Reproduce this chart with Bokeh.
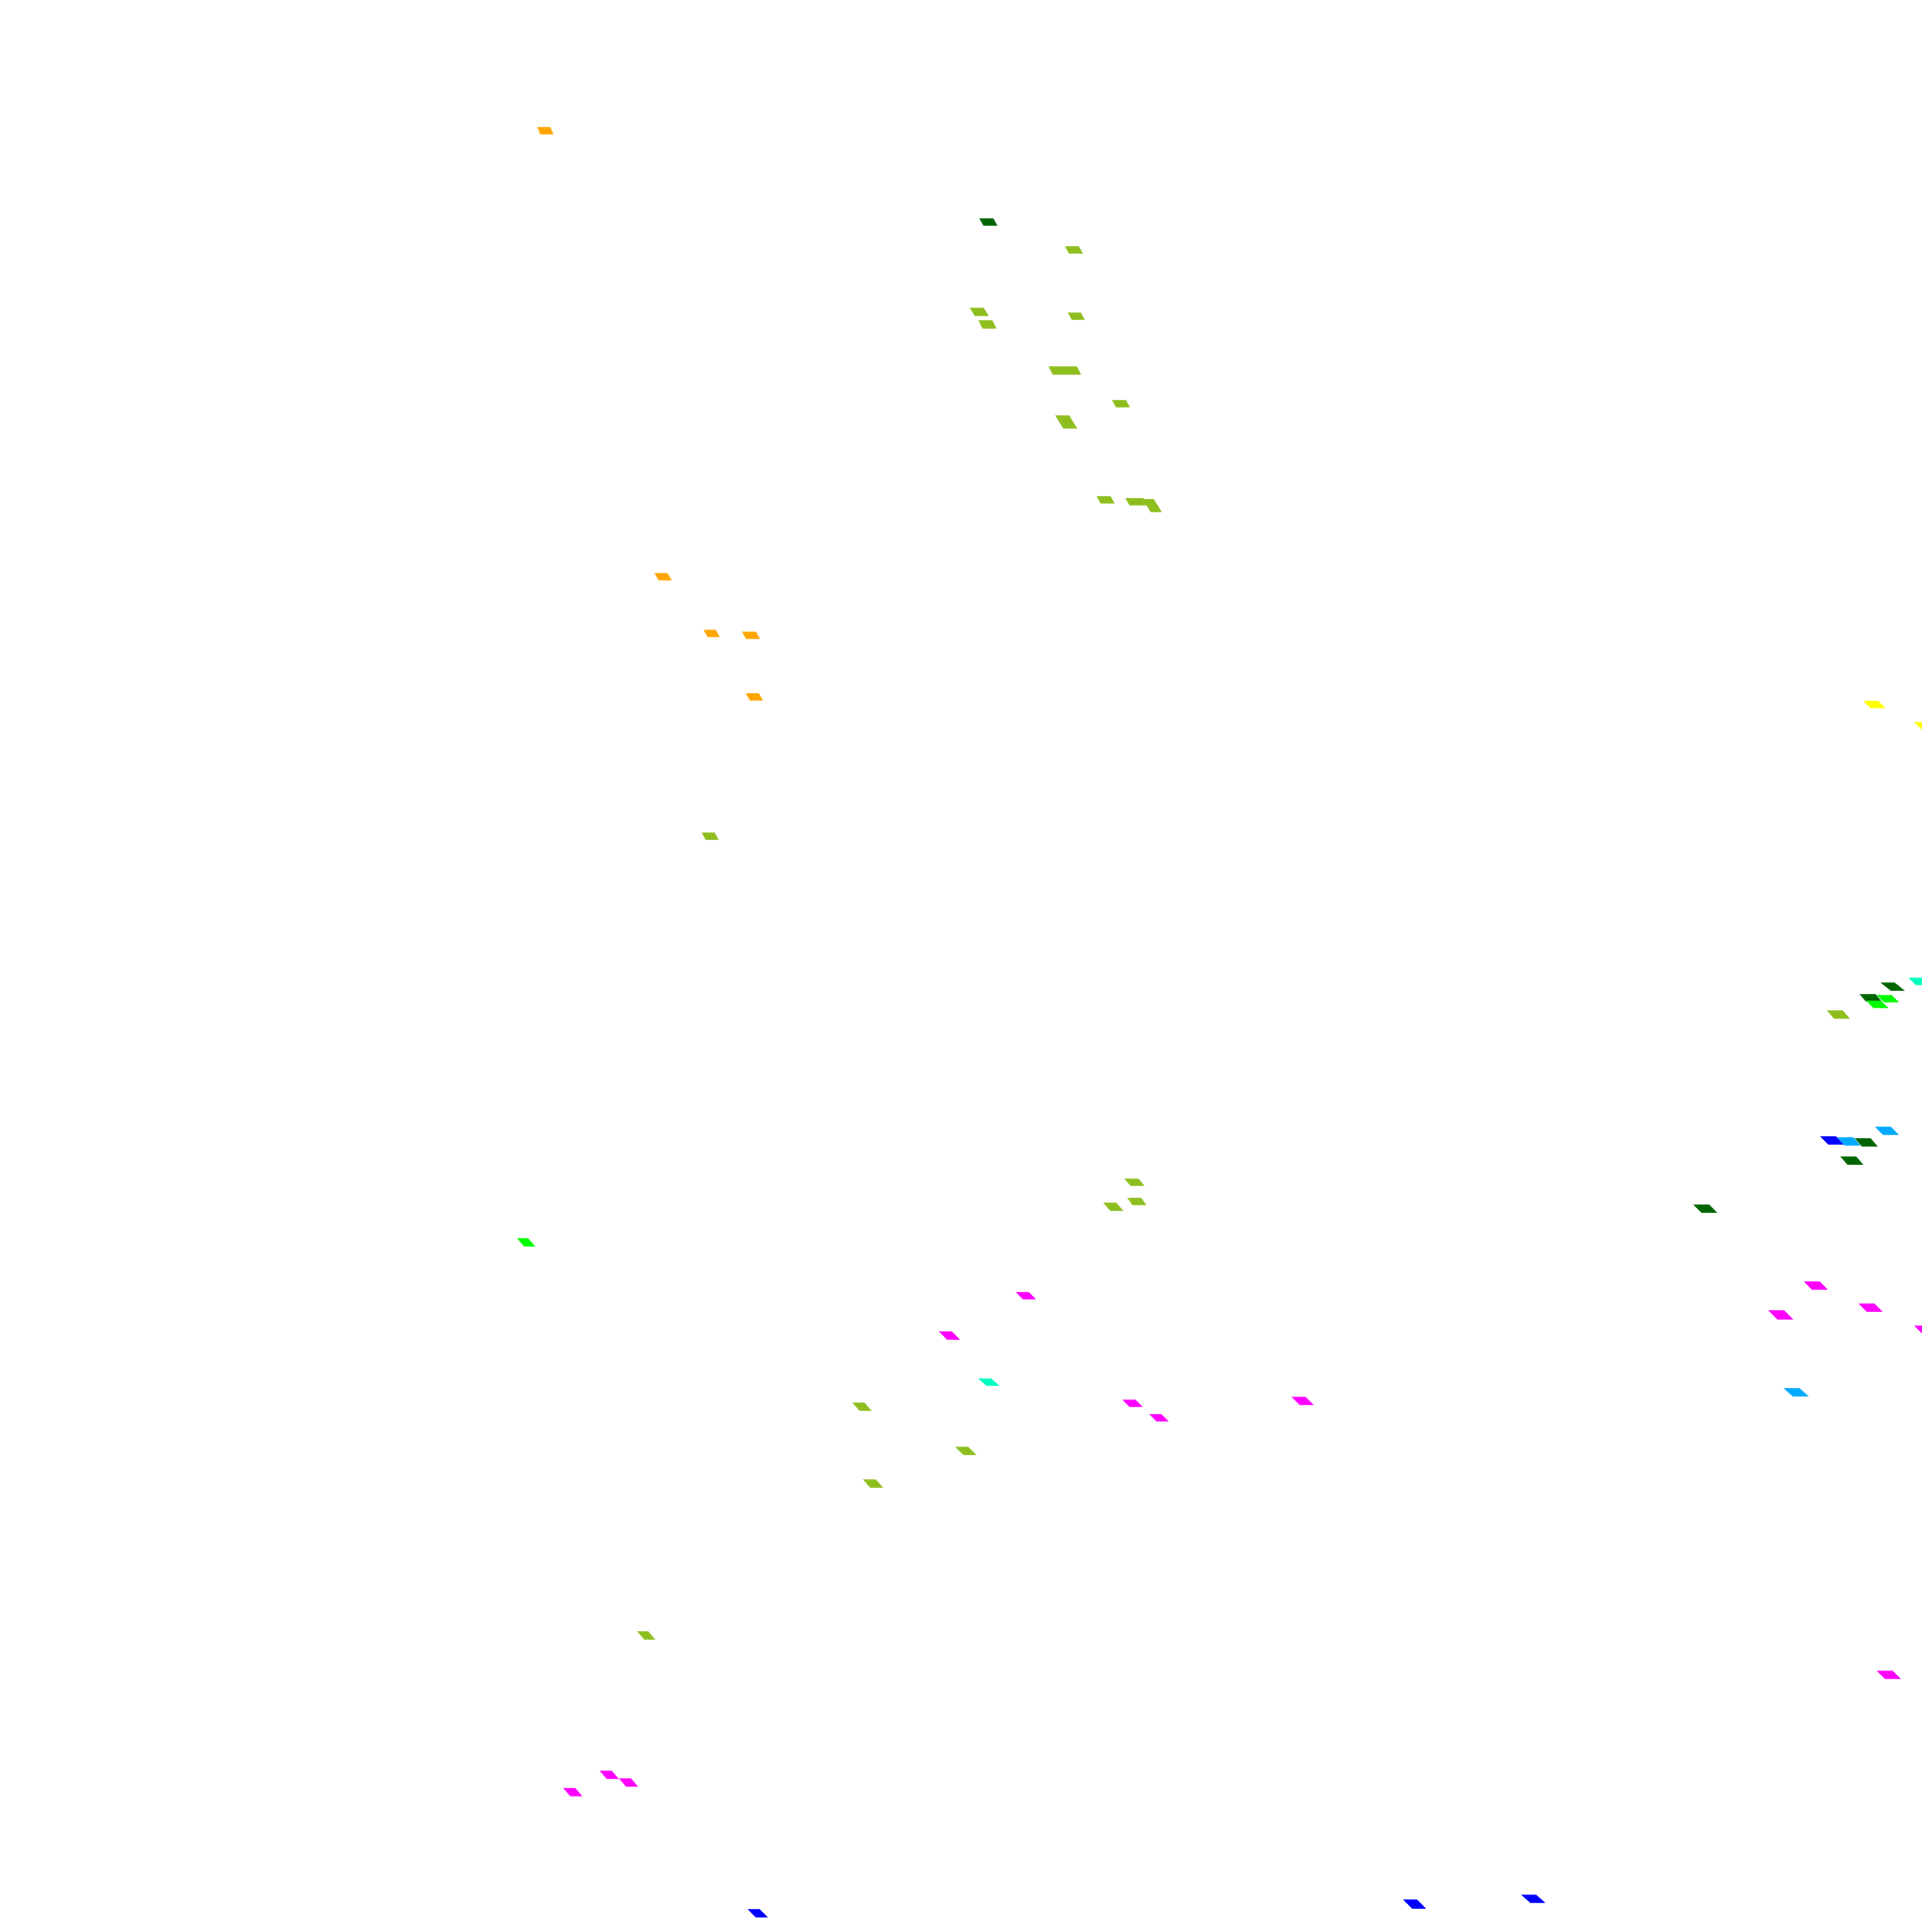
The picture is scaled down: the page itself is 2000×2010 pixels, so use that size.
from bokeh.plotting import figure
from bokeh.models import Range1d, ColumnDataSource
from bokeh.embed import file_html
from bokeh.resources import INLINE

# Each cell: bounding box (left, top, right, bottom), top-edge width, colour category
left   = [559, 1019, 1108, 1009, 1018, 1111, 1091, 1157, 1098, 1141, 1171, 1189,
          681, 732, 772, 776, 730,
          1939, 1992, 1986, 1957, 1935, 1953, 1942, 1901,
          1951, 1894, 1912, 1930, 1915, 1762,
          1170, 1173, 1148,
          538, 1057, 977, 1018, 887, 1168, 1196, 1344, 994, 898,
          1877, 1934, 1840, 1992, 1856,
          663, 624, 644, 586, 778, 1460, 1583, 1953]
top    = [132, 227, 256, 320, 333, 325, 381, 416, 432, 516, 518, 519,
          596, 655, 657, 721, 866,
          729, 751, 1017, 1022, 1034, 1035, 1041, 1051,
          1172, 1182, 1183, 1184, 1203, 1253,
          1226, 1246, 1251,
          1288, 1344, 1385, 1434, 1459, 1456, 1471, 1453, 1505, 1539,
          1333, 1356, 1363, 1379, 1444,
          1697, 1842, 1850, 1860, 1986, 1976, 1971, 1738]
right  = [575, 1037, 1126, 1028, 1036, 1128, 1124, 1175, 1120, 1159, 1193, 1208,
          698, 748, 790, 793, 747,
          1961, 2014, 2008, 1981, 1957, 1975, 1964, 1924,
          1975, 1918, 1935, 1953, 1938, 1786,
          1190, 1192, 1168,
          556, 1077, 998, 1039, 906, 1188, 1215, 1366, 1015, 918,
          1901, 1958, 1865, 2016, 1881,
          681, 643, 663, 605, 798, 1483, 1607, 1977]
bottom = [139, 234, 263, 328, 341, 332, 389, 423, 445, 523, 525, 532,
          603, 662, 664, 728, 873,
          736, 758, 1024, 1030, 1041, 1042, 1048, 1059,
          1180, 1190, 1191, 1192, 1211, 1261,
          1233, 1253, 1259,
          1296, 1351, 1393, 1441, 1467, 1463, 1478, 1461, 1513, 1547,
          1341, 1364, 1372, 1387, 1452,
          1705, 1850, 1858, 1868, 1994, 1985, 1979, 1746]
top_width = [13, 14, 14, 14, 14, 13, 29, 14, 14, 14, 18, 11,
             13, 12, 14, 13, 13,
             15, 15, 15, 14, 16, 15, 15, 16,
             16, 16, 16, 16, 16, 16,
             14, 14, 13,
             11, 13, 13, 13, 12, 13, 12, 14, 13, 13,
             16, 16, 16, 16, 16,
             11, 12, 12, 12, 12, 14, 15, 16]
category = ["orange", "darkgreen", "yg", "yg", "yg", "yg", "yg", "yg", "yg", "yg", "yg", "yg",
            "orange", "orange", "orange", "orange", "yg",
            "yellow", "yellow", "spring", "darkgreen", "darkgreen", "lime", "lime", "yg",
            "skyblue", "blue", "skyblue", "darkgreen", "darkgreen", "darkgreen",
            "yg", "yg", "yg",
            "lime", "magenta", "magenta", "spring", "yg", "magenta", "magenta", "magenta", "yg", "yg",
            "magenta", "magenta", "magenta", "magenta", "skyblue",
            "yg", "magenta", "magenta", "magenta", "blue", "blue", "blue", "magenta"]

palette = {
    "orange": "#FFA500",
    "darkgreen": "#006400",
    "yg": "#8DBE1E",
    "yellow": "#FFFF00",
    "lime": "#00FF00",
    "spring": "#00FFBF",
    "skyblue": "#00AAFF",
    "blue": "#0000FF",
    "magenta": "#FF00FF",
}

xs, ys, colors = [], [], []
for x0, y0, x1, y1, w, c in zip(left, top, right, bottom, top_width, category):
    xs.append([x0, x0 + w, x1, x1 - w])
    ys.append([y0, y0, y1, y1])
    colors.append(palette[c])

src = ColumnDataSource(dict(xs=xs, ys=ys, color=colors))

W, H = 2000, 2010
p = figure(width=W, height=H, output_backend="svg", toolbar_location=None,
           x_range=Range1d(0, W), y_range=Range1d(H, 0),
           min_border=0, background_fill_color="white", border_fill_color="white")
p.axis.visible = False
p.grid.visible = False
p.outline_line_color = None

p.patches("xs", "ys", source=src, fill_color="color", line_color="color", line_width=0.6)

open("out.html", "w").write(file_html(p, INLINE))
